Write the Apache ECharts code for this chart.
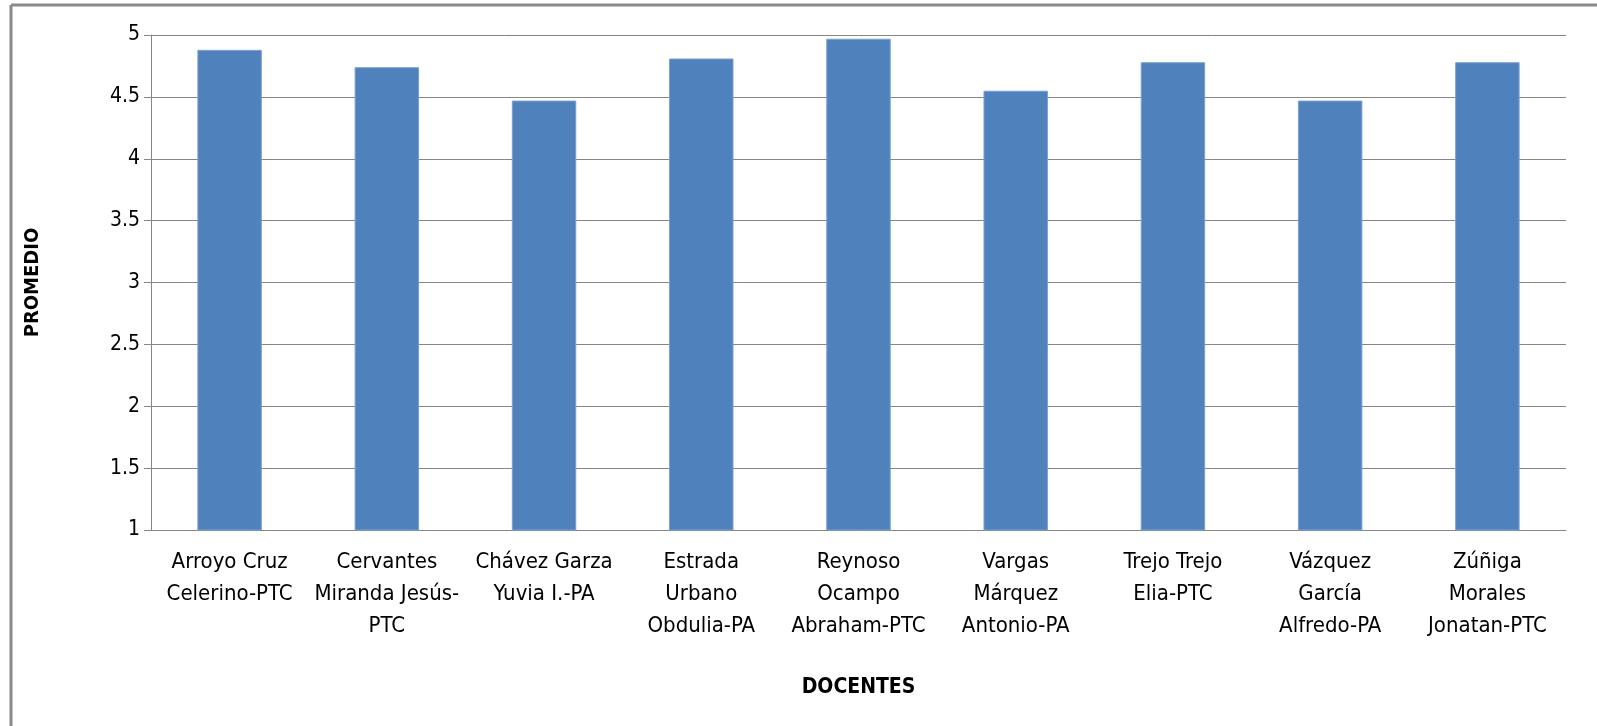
<!DOCTYPE html>
<html>
<head>
<meta charset="utf-8">
<script src="https://cdn.jsdelivr.net/npm/echarts@6/dist/echarts.min.js"></script>
<style>
html,body{margin:0;padding:0;background:#fff;}
#chart{width:1597px;height:726px;}
</style>
</head>
<body>
<div id="chart"></div>
<script>
const categories = [
  "Arroyo Cruz\nCelerino-PTC",
  "Cervantes\nMiranda Jesús-\nPTC",
  "Chávez Garza\nYuvia I.-PA",
  "Estrada\nUrbano\nObdulia-PA",
  "Reynoso\nOcampo\nAbraham-PTC",
  "Vargas\nMárquez\nAntonio-PA",
  "Trejo Trejo\nElia-PTC",
  "Vázquez\nGarcía\nAlfredo-PA",
  "Zúñiga\nMorales\nJonatan-PTC"
];
const promedio = [4.88, 4.74, 4.47, 4.81, 4.97, 4.55, 4.78, 4.47, 4.78];
const yMin = 1, yMax = 5, yStep = 0.5;
const xTitle = "DOCENTES";
const yTitle = "PROMEDIO";

const font = "'Liberation Sans Narrow', 'DejaVu Sans Condensed', 'Liberation Sans', sans-serif";
const chart = echarts.init(document.getElementById('chart'));
chart.setOption({
  animation: false,
  backgroundColor: '#ffffff',
  graphic: [
    {type: 'line', shape: {x1: 11, y1: 5, x2: 1597, y2: 5}, style: {stroke: '#8a8a8a', lineWidth: 3}},
    {type: 'line', shape: {x1: 11, y1: 5, x2: 11, y2: 726}, style: {stroke: '#8a8a8a', lineWidth: 3}}
  ],
  grid: {left: 151, right: 31, top: 35, bottom: 196, containLabel: false},
  xAxis: {
    type: 'category',
    data: categories,
    name: xTitle,
    nameLocation: 'middle',
    nameGap: 147,
    nameTextStyle: {fontFamily: font, fontSize: 21, fontWeight: 'bold', color: '#000'},
    axisLine: {lineStyle: {color: '#868686', width: 1}},
    axisTick: {show: false},
    axisLabel: {interval: 0, fontFamily: font, fontSize: 22, lineHeight: 32, color: '#000', margin: 16}
  },
  yAxis: {
    type: 'value',
    min: yMin, max: yMax, interval: yStep,
    name: yTitle,
    nameLocation: 'middle',
    nameGap: 108,
    nameTextStyle: {fontFamily: font, fontSize: 20, fontWeight: 'bold', color: '#000'},
    axisLine: {show: true, lineStyle: {color: '#868686', width: 1}},
    axisTick: {show: true, length: 7, lineStyle: {color: '#868686'}},
    splitLine: {lineStyle: {color: '#868686', width: 1}},
    axisLabel: {fontFamily: font, fontSize: 21, color: '#000', margin: 11}
  },
  series: [{
    type: 'bar',
    data: promedio,
    barCategoryGap: '59%',
    itemStyle: {color: '#4F81BD', borderColor: '#7BA0D0', borderWidth: 1}
  }]
});
</script>
</body>
</html>
